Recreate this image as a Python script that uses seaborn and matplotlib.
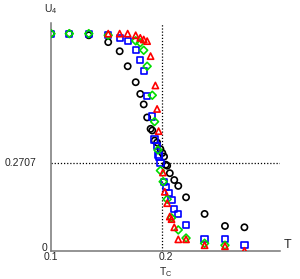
import numpy as np
import pandas as pd
import matplotlib
matplotlib.use('Agg')
import matplotlib.pyplot as plt
import seaborn as sns

# Binder cumulant U4 vs temperature, four system sizes
t_black = [0.100, 0.116, 0.133, 0.150, 0.160, 0.167, 0.174, 0.178, 0.181, 0.184,
           0.187, 0.1885, 0.1905, 0.1927, 0.1956, 0.1973, 0.1988, 0.2003, 0.2015,
           0.2038, 0.2077, 0.2112, 0.218, 0.2342, 0.252, 0.269]
u_black = [0.667, 0.667, 0.662, 0.641, 0.613, 0.567, 0.518, 0.482, 0.450, 0.410,
           0.375, 0.370, 0.339, 0.333, 0.313, 0.301, 0.290, 0.265, 0.262,
           0.239, 0.218, 0.200, 0.165, 0.114, 0.077, 0.073]

t_blue = [0.100, 0.116, 0.133, 0.150, 0.160, 0.167, 0.174, 0.178, 0.181, 0.184,
          0.1885, 0.1905, 0.1927, 0.194, 0.1945, 0.1956, 0.1988, 0.2008, 0.2029,
          0.2053, 0.2077, 0.2112, 0.218, 0.2342, 0.252, 0.269]
u_blue = [0.667, 0.667, 0.667, 0.662, 0.654, 0.645, 0.616, 0.585, 0.552, 0.475,
          0.413, 0.342, 0.323, 0.295, 0.290, 0.270, 0.213, 0.196, 0.179,
          0.157, 0.128, 0.114, 0.081, 0.038, 0.038, 0.018]

t_green = [0.100, 0.116, 0.133, 0.150, 0.174, 0.178, 0.181, 0.184, 0.1885, 0.1905,
           0.1935, 0.1956, 0.198, 0.2015, 0.2053, 0.2112, 0.218, 0.2342, 0.252]
u_green = [0.667, 0.667, 0.667, 0.662, 0.645, 0.639, 0.616, 0.567, 0.478, 0.397,
           0.310, 0.247, 0.213, 0.159, 0.102, 0.065, 0.040, 0.024, 0.018]

t_red = [0.150, 0.160, 0.167, 0.174, 0.178, 0.181, 0.184, 0.187, 0.1912, 0.1927,
         0.194, 0.1978, 0.1994, 0.2015, 0.2038, 0.2053, 0.2077, 0.2112, 0.218,
         0.2342, 0.252, 0.269]
u_red = [0.667, 0.667, 0.667, 0.662, 0.654, 0.649, 0.644, 0.598, 0.508, 0.436,
         0.368, 0.241, 0.182, 0.147, 0.106, 0.098, 0.073, 0.036, 0.036,
         0.018, 0.015, 0.001]

t_c = 0.197
u_star = 0.2707
x_tick_vals = [0.1, 0.2]
x_tick_text = ['0.1', '0.2']
y_label_vals = [0, u_star]
y_label_text = ['0', '0.2707']

series = [
    (t_black, u_black, 'o', 'black'),
    (t_blue, u_blue, 's', '#0000ff'),
    (t_green, u_green, 'D', '#00dd00'),
    (t_red, u_red, '^', '#ff0000'),
]

sns.set_theme(style='white')
plt.rcParams['font.family'] = ['Liberation Sans', 'DejaVu Sans']

fig = plt.figure(figsize=(3.0, 2.79), dpi=100)
ax = fig.add_axes([0.17, 0.10, 0.763, 0.818])

for t, u, m, c in series:
    df = pd.DataFrame({'T': t, 'U4': u})
    size = 16 if m == 'D' else 20
    sns.scatterplot(data=df, x='T', y='U4', marker=m, s=size, facecolor='none',
                    edgecolor=c, linewidth=1.2, ax=ax, zorder=3)

ax.axvline(t_c, ymin=0, ymax=1, color='black', ls=(0, (1, 1.5)), lw=0.9, zorder=2)
ax.axhline(u_star, xmin=0, xmax=1, color='black', ls=(0, (1, 1.5)), lw=0.9, zorder=2)

ax.set_xlim(0.1, 0.30)
ax.set_ylim(0, 0.70)

for side in ['top', 'right']:
    ax.spines[side].set_visible(False)
for side in ['left', 'bottom']:
    ax.spines[side].set_color('#777777')
    ax.spines[side].set_linewidth(1.1)

ax.set_xticks(np.arange(0.1, 0.3001, 0.01))
ax.set_xticklabels([])
ax.set_yticks(np.arange(0, 0.7001, 0.1))
ax.set_yticklabels([])
ax.tick_params(axis='both', direction='inout', length=4, width=1, color='#777777')
ax.set_xlabel('')
ax.set_ylabel('')

for v, s in zip(x_tick_vals, x_tick_text):
    ax.text(v, -0.006, s, transform=ax.get_xaxis_transform(), ha='center', va='top',
            fontsize=7.5)
ax.text(0.2, -0.06, r'T$_\mathregular{C}$', transform=ax.get_xaxis_transform(),
        ha='center', va='top', fontsize=7.5)
for v, s in zip(y_label_vals, y_label_text):
    dx = -0.015 if s == '0' else -0.065
    ax.text(dx, v + (0.008 if s == '0' else 0), s, transform=ax.get_yaxis_transform(),
            ha='right', va='center', fontsize=7.5)

ax.text(1.015, 0.0, 'T', transform=ax.transAxes, ha='left', va='bottom', fontsize=9)
ax.text(-0.03, 1.03, r'U$_\mathregular{4}$', transform=ax.transAxes, ha='left',
        va='bottom', fontsize=7.5)

fig.savefig('out.png', dpi=100)
